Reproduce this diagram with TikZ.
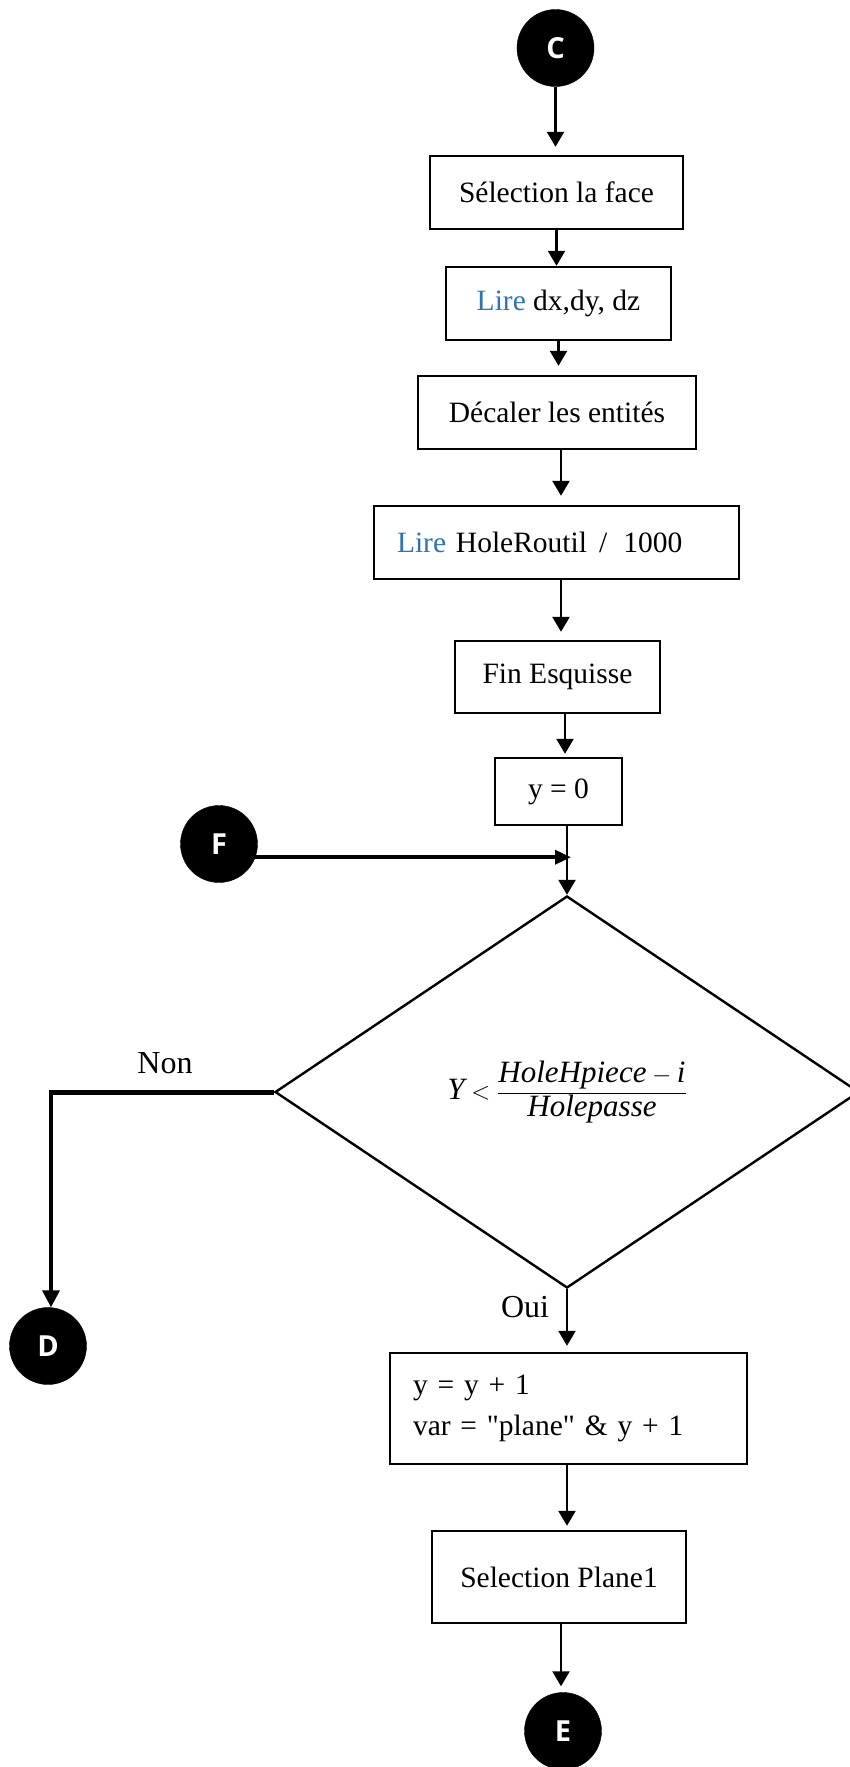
\documentclass[tikz,border=0pt]{standalone}
\usepackage{fontspec}
\setmainfont{Liberation Serif}[Ligatures=TeXOff]
\newfontfamily\circfont{Open Sans}
\usetikzlibrary{arrows.meta,shapes.geometric}
\definecolor{lireblue}{RGB}{46,116,181}

\begin{document}
\begin{tikzpicture}[x=1pt,y=-1pt,
  procbox/.style={draw=black, line width=2.4pt, minimum height=73pt, inner sep=0pt,
                  font=\fontsize{29.5}{36}\selectfont},
  connector/.style={draw=black, fill=black, circle, minimum size=77pt, inner sep=0pt,
                    text=white, font=\fontsize{29}{32}\circfont\bfseries\selectfont},
  decision/.style={draw=black, diamond, line width=2.4pt, inner sep=0pt,
                   font=\fontsize{31}{34}\selectfont},
  arr/.style={line width=2.4pt, -{Triangle[width=17pt,length=15pt]}},
  lbl/.style={font=\fontsize{32}{36}\selectfont, inner sep=0pt},
]
\useasboundingbox (0,0) rectangle (849,1767);

% connectors (off-page references)
\node[connector] (C) at (555.5,48) {C};
\node[connector] (F) at (219,844) {F};
\node[connector] (D) at (48,1346) {D};
\node[connector] (E) at (563,1731) {E};

% process steps
\node[procbox, minimum width=253pt] (b1) at (556.5,192.5) {Sélection la face};
\node[procbox, minimum width=225pt] (b2) at (558.5,303.5) {\textcolor{lireblue}{Lire} dx,dy, dz};
\node[procbox, minimum width=278pt] (b3) at (557,412.5) {Décaler les entités};
\node[procbox, minimum width=365pt, text width=319pt, align=left] (b4) at (556.5,542.5)
  {\textcolor{lireblue}{Lire} HoleRoutil\hspace{12pt}/\hspace{16pt}1000};
\node[procbox, minimum width=205pt, minimum height=72pt] (b5) at (557.5,677) {Fin Esquisse\hspace{12pt}};
\node[procbox, minimum width=127pt, minimum height=67pt] (b6) at (558.5,791.5) {y = 0\hspace{15pt}};

% loop test
\node[decision, minimum width=584pt, minimum height=392pt] (dec) at (567,1092)
  {\raisebox{8pt}{$\displaystyle \textit{Y}<\frac{\textit{HoleHpiece}-\textit{i}}{\textit{Holepasse}}$}};
\node[lbl] (non) at (165,1063) {Non};
\node[lbl] (oui) at (525,1307) {Oui};

% loop body
\node[procbox, minimum width=357pt, minimum height=111pt, text width=311pt, align=left,
      font=\fontsize{29.5}{41}\selectfont] (b7) at (568.5,1408.5)
  {y = y + 1\\ var = "plane" \& y + 1};
\node[procbox, minimum width=254pt, minimum height=92pt] (b8) at (559,1577) {Selection Plane1};

% flow
\draw[arr, shorten >=8pt] (C) -- (C |- b1.north);
\draw[arr] (b1.south) -- (b1.south |- b2.north);
\draw[arr, shorten >=9pt] (b2.south) -- (b2.south |- b3.north);
\draw[arr, shorten >=9pt] ([xshift=4pt]b3.south) -- ([xshift=4pt]b3.south |- b4.north);
\draw[arr, shorten >=8pt] ([xshift=4.5pt]b4.south) -- ([xshift=4.5pt]b4.south |- b5.north);
\draw[arr, shorten >=3pt] ([xshift=7.5pt]b5.south) -- ([xshift=7.5pt]b5.south |- b6.north);
\draw[arr] (dec.north |- b6.south) -- (dec.north);
\draw[line width=3.5pt, -{Triangle[width=14pt,length=16pt]}, shorten >=-4pt]
  (F.-20) -- (F.-20 -| dec.north);

\coordinate (nc) at ([xshift=3pt]dec.west -| D.north);
\draw[line width=5pt] (dec.west) -- (nc);
\draw[line width=3.5pt, -{Triangle[width=17pt,length=17pt]}] ([yshift=2.5pt]nc) -- (nc |- D.north);

\draw[arr, shorten >=6pt] (dec.south) -- (dec.south |- b7.north);
\draw[arr, shorten >=4pt] ([xshift=-1.5pt]b7.south) -- ([xshift=-1.5pt]b7.south |- b8.north);
\draw[arr, shorten >=6pt] ([xshift=2pt]b8.south) -- ([xshift=2pt]b8.south |- E.north);
\end{tikzpicture}
\end{document}
